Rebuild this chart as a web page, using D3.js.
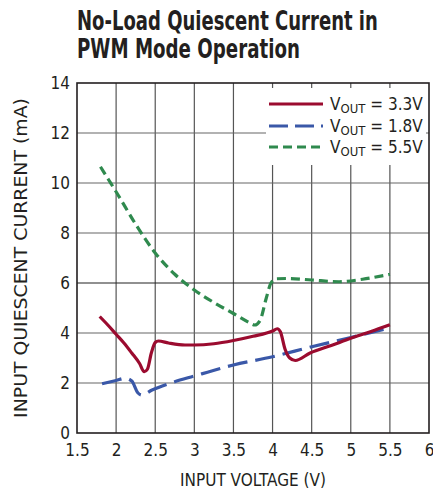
<!DOCTYPE html>
<html><head><meta charset="utf-8">
<script src="https://cdn.jsdelivr.net/npm/d3@7"></script>
<style>
body{margin:0;background:#fff;}
svg{display:block;}
</style></head>
<body><svg id="c" width="433" height="491"></svg>
<script>
const xTicks = [1.5,2,2.5,3,3.5,4,4.5,5,5.5,6];
const xTickLabels = ["1.5","2","2.5","3","3.5","4","4.5","5","5.5","6"];
const yTicks = [0,2,4,6,8,10,12,14];
const seriesNames = ["3.3V","1.8V","5.5V"];
const v33 = [[1.79,4.66],[1.9,4.3],[2.0,3.95],[2.1,3.6],[2.2,3.2],[2.3,2.78],[2.36,2.45],[2.4,2.55],[2.45,3.2],[2.5,3.62],[2.54,3.68],[2.67,3.6],[2.88,3.52],[3.0,3.52],[3.25,3.57],[3.5,3.7],[3.75,3.87],[4.0,4.08],[4.06,4.17],[4.1,4.05],[4.16,3.35],[4.22,3.0],[4.29,2.9],[4.48,3.2],[4.75,3.5],[5.0,3.79],[5.25,4.05],[5.5,4.33]];
const v18 = [[1.82,1.97],[2.0,2.1],[2.12,2.19],[2.2,2.08],[2.28,1.6],[2.33,1.52],[2.46,1.72],[2.7,2.0],[3.0,2.28],[3.5,2.72],[4.0,3.05],[4.5,3.45],[5.0,3.82],[5.5,4.2]];
const v55 = [[1.8,10.65],[1.9,10.15],[2.0,9.65],[2.25,8.35],[2.5,7.2],[2.75,6.35],[3.0,5.72],[3.25,5.22],[3.5,4.78],[3.7,4.42],[3.77,4.32],[3.84,4.5],[3.92,5.4],[3.98,6.0],[4.05,6.17],[4.2,6.18],[4.5,6.12],[4.85,6.05],[5.15,6.15],[5.5,6.35]];

const svg = d3.select("#c");
const L=77, R=429, T=83, B=433;
const x = d3.scaleLinear().domain([1.5,6]).range([L,R]);
const y = d3.scaleLinear().domain([0,14]).range([B,T]);
const font = "'Liberation Sans Narrow','DejaVu Sans Condensed','Roboto',sans-serif";
const txt = "#231f20";

function fitText(sel, target, tx, ty, rot){
  const w = sel.node().getComputedTextLength();
  const s = target / w;
  sel.attr("x",0).attr("y",0)
     .attr("transform",`translate(${tx},${ty})${rot?" rotate("+rot+")":""} scale(${s},1)`);
}

// title
const t1 = svg.append("text").attr("font-family",font).attr("font-weight","bold")
  .attr("font-size",26).attr("fill",txt).text("No-Load Quiescent Current in");
fitText(t1, 301, 77, 30);
const t2 = svg.append("text").attr("font-family",font).attr("font-weight","bold")
  .attr("font-size",26).attr("fill",txt).text("PWM Mode Operation");
fitText(t2, 223, 77, 58);

// grid
const g = svg.append("g");
g.selectAll(".vg").data(xTicks.slice(1,-1)).join("line")
  .attr("x1",d=>x(d)).attr("x2",d=>x(d)).attr("y1",T).attr("y2",B)
  .attr("stroke","#555").attr("stroke-width",1.2);
g.selectAll(".hg").data(yTicks.slice(1,-1)).join("line")
  .attr("x1",L).attr("x2",R).attr("y1",d=>y(d)).attr("y2",d=>y(d))
  .attr("stroke",d=>d===6?"#222":"#666").attr("stroke-width",1.2);

// legend background
svg.append("rect").attr("x",266).attr("y",88).attr("width",160).attr("height",77).attr("fill","#fff");

// frame
svg.append("rect").attr("x",L).attr("y",T).attr("width",R-L).attr("height",B-T)
  .attr("fill","none").attr("stroke","#231f20").attr("stroke-width",1.6);

// axes
const xAxis = d3.axisBottom(x).tickValues(xTicks).tickFormat((d,i)=>xTickLabels[i]).tickSize(0).tickPadding(11);
const xa = svg.append("g").attr("transform",`translate(0,${B})`).call(xAxis);
xa.select(".domain").remove();
xa.selectAll("text").attr("font-family",font).attr("font-size",17).attr("fill",txt);
const yAxis = d3.axisLeft(y).tickValues(yTicks).tickSize(0).tickPadding(7);
const ya = svg.append("g").attr("transform",`translate(${L},0)`).call(yAxis);
ya.select(".domain").remove();
ya.selectAll("text").attr("font-family",font).attr("font-size",17).attr("fill",txt);

svg.append("text").attr("x",253).attr("y",486).attr("text-anchor","middle").attr("font-family",font)
  .attr("font-size",17).attr("fill",txt).text("INPUT VOLTAGE (V)");
const yt = svg.append("text").attr("text-anchor","middle").attr("font-family",font)
  .attr("font-size",17).attr("fill",txt).text("INPUT QUIESCENT CURRENT (mA)");
fitText(yt, 320, 27, 258, -90);

// curves
const line = d3.line().x(d=>x(d[0])).y(d=>y(d[1])).curve(d3.curveMonotoneX);
const styles = [
  {data:v33,color:"#9b0b2f",dash:null},
  {data:v18,color:"#3a58a8",dash:"20,8"},
  {data:v55,color:"#2f8a4e",dash:"9,5"}
];
svg.append("clipPath").attr("id","pc").append("rect").attr("x",L).attr("y",T).attr("width",R-L).attr("height",B-T);
const cg = svg.append("g").attr("clip-path","url(#pc)");
[styles[2],styles[1],styles[0]].forEach(s=>{
  cg.append("path").attr("d",line(s.data)).attr("fill","none").attr("stroke",s.color)
    .attr("stroke-width",3.2).attr("stroke-dasharray",s.dash).attr("stroke-linejoin","round");
});

// legend
const lg = svg.append("g");
const ly = [104,126,147];
styles.forEach((s,i)=>{
  lg.append("line").attr("x1",269).attr("x2",323).attr("y1",ly[i]).attr("y2",ly[i])
    .attr("stroke",s.color).attr("stroke-width",3.2).attr("stroke-dasharray",s.dash ? (i===1?"19,7":"9,5") : null);
  const t = lg.append("text").attr("x",330).attr("y",ly[i]+6).attr("font-family",font).attr("font-size",17).attr("fill",txt);
  t.append("tspan").text("V");
  t.append("tspan").attr("font-size",13).attr("dy",3).text("OUT");
  t.append("tspan").attr("dy",-3).text(" = "+seriesNames[i]);
});
</script></body></html>
